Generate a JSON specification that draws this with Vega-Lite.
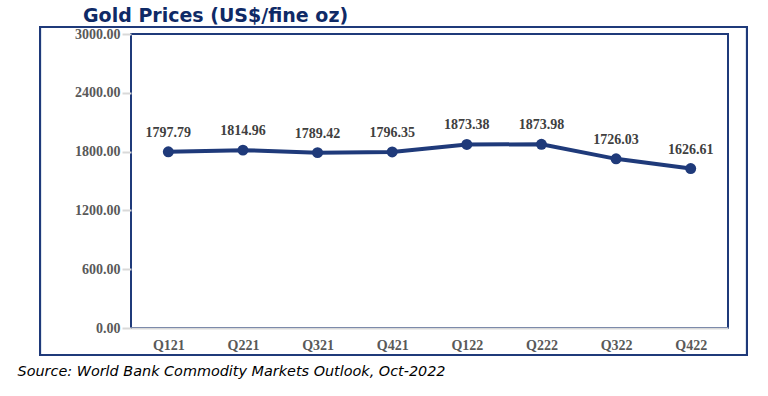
{
  "$schema": "https://vega.github.io/schema/vega-lite/v6.json",
  "width": 597,
  "height": 294,
  "autosize": {"type": "none"},
  "padding": {"left": 131, "top": 34, "right": 40, "bottom": 68},
  "background": "white",
  "config": {
    "view": {"stroke": "#1f3a7a", "strokeWidth": 2},
    "font": "Liberation Serif"
  },
  "title": {
    "text": "Gold Prices (US$/fine oz)",
    "font": "DejaVu Sans",
    "fontWeight": "bold",
    "fontSize": 19,
    "color": "#0f2a66",
    "anchor": "start",
    "frame": "group",
    "dx": -48,
    "offset": 0
  },
  "data": {
    "values": [
      {"quarter": "Q121", "price": 1797.79},
      {"quarter": "Q221", "price": 1814.96},
      {"quarter": "Q321", "price": 1789.42},
      {"quarter": "Q421", "price": 1796.35},
      {"quarter": "Q122", "price": 1873.38},
      {"quarter": "Q222", "price": 1873.98},
      {"quarter": "Q322", "price": 1726.03},
      {"quarter": "Q422", "price": 1626.61}
    ]
  },
  "resolve": {"scale": {"x": "independent"}, "axis": {"x": "independent"}},
  "layer": [
    {
      "mark": {"type": "rect", "filled": false, "stroke": "#1f3a7a", "strokeWidth": 2, "clip": false},
      "encoding": {
        "x": {"datum": -0.1524, "type": "quantitative", "scale": {"domain": [0, 1], "nice": false, "zero": false}, "axis": null},
        "x2": {"datum": 1.0318},
        "y": {"datum": 3071.4, "type": "quantitative", "scale": {"domain": [0, 3000], "nice": false}},
        "y2": {"datum": -275.5}
      }
    },
    {
      "encoding": {
        "x": {
          "field": "quarter",
          "type": "ordinal",
          "sort": null,
          "scale": {"type": "point", "padding": 0.5},
          "axis": {
            "title": "Source: World Bank Commodity Markets Outlook, Oct-2022",
            "titleFont": "DejaVu Sans",
            "titleFontStyle": "italic",
            "titleFontWeight": "normal",
            "titleFontSize": 14.4,
            "titleColor": "#000000",
            "titleAnchor": "start",
            "titleAlign": "left",
            "titleBaseline": "alphabetic",
            "titleX": -114,
            "titleY": 47,
            "labelAngle": 0,
            "labelFont": "Liberation Serif",
            "labelFontWeight": "bold",
            "labelFontSize": 14,
            "labelColor": "#595959",
            "labelPadding": 10,
            "ticks": false,
            "domainColor": "#d9d9d9",
            "domainWidth": 2,
            "zindex": 1
          }
        },
        "y": {
          "field": "price",
          "type": "quantitative",
          "scale": {"domain": [0, 3000], "nice": false},
          "axis": {
            "title": null,
            "values": [0, 600, 1200, 1800, 2400, 3000],
            "format": ".2f",
            "labelFont": "Liberation Serif",
            "labelFontWeight": "bold",
            "labelFontSize": 14,
            "labelColor": "#595959",
            "labelPadding": 2,
            "tickColor": "#d9d9d9",
            "tickSize": 9,
            "tickWidth": 2,
            "gridColor": "#d9d9d9",
            "gridWidth": 2,
            "domain": false
          }
        }
      },
      "layer": [
        {"mark": {"type": "line", "color": "#1f3a7a", "strokeWidth": 4}},
        {"mark": {"type": "point", "filled": true, "color": "#1f3a7a", "size": 120, "opacity": 1}},
        {
          "mark": {"type": "text", "dy": -19, "font": "Liberation Serif", "fontWeight": "bold", "fontSize": 14, "color": "#404040"},
          "encoding": {"text": {"field": "price", "type": "quantitative", "format": ".2f"}}
        }
      ]
    }
  ]
}
